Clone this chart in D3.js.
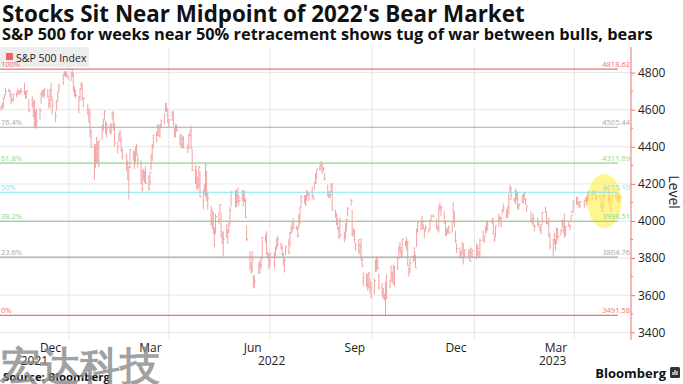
<!DOCTYPE html>
<html>
<head>
<meta charset="utf-8">
<script src="https://cdn.jsdelivr.net/npm/d3@7"></script>
<style>
  body { margin: 0; background: #fff; }
  svg { display: block; }
  text { font-family: "Open Sans", "Liberation Sans", sans-serif; }
</style>
</head>
<body>
<svg width="683" height="384"></svg>
<script>
// ---- data ----
var firstDay = '2021-11-01';
var lastDay = '2023-05-12';
var marketHolidays = ['2021-11-25', '2021-12-24', '2022-01-17', '2022-02-21', '2022-04-15',
  '2022-05-30', '2022-06-20', '2022-07-04', '2022-09-05', '2022-11-24', '2022-12-26',
  '2023-01-02', '2023-01-16', '2023-02-20', '2023-04-07'];

// one [low, high, close] per trading day
var dailyBars = [
  // Nov 2021
  [4596,4621,4614],[4605,4636,4631],[4608,4664,4661],[4662,4683,4680],[4681,4718,4698],[4694,4714,4702],[4667,4708,4685],[4630,4685,4647],[4646,4663,4649],[4651,4688,4683],[4666,4697,4683],[4677,4714,4701],[4685,4701,4689],[4679,4706,4705],[4689,4717,4698],[4680,4744,4683],[4658,4702,4691],[4659,4704,4701],[4585,4657,4595],[4612,4672,4655],[4560,4646,4567],
  // Dec 2021
  [4510,4653,4513],[4504,4595,4577],[4496,4608,4538],[4546,4612,4592],[4632,4695,4687],[4670,4705,4701],[4667,4708,4667],[4675,4713,4712],[4665,4711,4669],[4608,4660,4634],[4606,4712,4710],[4648,4743,4669],[4574,4661,4621],[4531,4591,4568],[4595,4650,4649],[4643,4698,4697],[4699,4741,4726],[4734,4792,4791],[4783,4808,4786],[4775,4805,4793],[4778,4808,4779],[4765,4787,4766],
  // Jan 2022
  [4755,4798,4797],[4775,4818.62,4794],[4700,4797,4701],[4671,4725,4696],[4662,4707,4677],[4582,4673,4670],[4646,4714,4713],[4707,4749,4726],[4651,4745,4659],[4614,4665,4663],[4571,4631,4577],[4531,4611,4533],[4449,4596,4483],[4395,4495,4398],[4223,4417,4410],[4287,4411,4356],[4309,4454,4350],[4309,4429,4327],[4288,4432,4432],[4436,4516,4516],
  // Feb 2022
  [4484,4550,4547],[4551,4595,4589],[4470,4543,4477],[4451,4530,4501],[4471,4522,4484],[4466,4527,4522],[4547,4591,4587],[4488,4589,4504],[4401,4527,4419],[4364,4427,4402],[4429,4473,4471],[4426,4490,4475],[4373,4454,4380],[4328,4395,4349],[4268,4363,4305],[4222,4325,4226],[4115,4295,4289],[4286,4385,4385],[4322,4381,4374],
  // Mar 2022
  [4279,4372,4306],[4318,4401,4387],[4351,4416,4363],[4287,4354,4329],[4199,4327,4201],[4158,4277,4171],[4218,4277,4278],[4206,4268,4260],[4199,4296,4204],[4162,4247,4173],[4192,4263,4262],[4273,4358,4358],[4324,4412,4412],[4390,4465,4463],[4424,4482,4461],[4458,4522,4512],[4456,4501,4456],[4452,4521,4520],[4501,4546,4543],[4522,4576,4576],[4589,4637,4632],[4588,4627,4602],[4530,4603,4530],
  // Apr 2022
  [4507,4549,4546],[4539,4593,4583],[4513,4594,4525],[4450,4504,4481],[4451,4521,4500],[4481,4521,4488],[4410,4465,4413],[4395,4471,4397],[4395,4453,4447],[4391,4460,4393],[4366,4411,4392],[4390,4471,4462],[4455,4489,4459],[4386,4513,4394],[4268,4386,4272],[4200,4299,4296],[4175,4278,4175],[4170,4241,4184],[4184,4298,4288],[4128,4269,4132],
  // May 2022
  [4062,4170,4155],[4142,4200,4175],[4132,4308,4300],[4107,4270,4147],[4062,4158,4123],[3975,4082,3991],[3957,4068,4001],[3929,4050,3935],[3859,3964,3930],[3935,4039,4024],[3984,4047,4008],[4039,4089,4089],[3912,4044,3924],[3876,3946,3901],[3810,3943,3901],[3909,3981,3974],[3876,3956,3941],[3936,4000,3979],[3984,4075,4058],[4077,4158,4158],[4074,4169,4132],
  // Jun 2022
  [4073,4166,4101],[4097,4177,4177],[4081,4143,4109],[4107,4168,4121],[4080,4165,4161],[4102,4160,4116],[4017,4120,4018],[3891,3975,3901],[3735,3838,3750],[3715,3779,3735],[3723,3837,3790],[3640,3707,3667],[3637,3708,3675],[3715,3780,3765],[3716,3790,3760],[3745,3802,3796],[3798,3913,3912],[3887,3927,3900],[3820,3945,3822],[3799,3837,3819],[3738,3818,3785],
  // Jul 2022
  [3751,3829,3825],[3743,3832,3831],[3812,3864,3845],[3849,3906,3903],[3860,3919,3899],[3846,3882,3854],[3814,3874,3819],[3759,3829,3802],[3722,3797,3790],[3817,3864,3863],[3822,3903,3831],[3861,3939,3937],[3930,3975,3960],[3940,3999,3999],[3956,4013,3962],[3951,3976,3967],[3911,3962,3921],[3956,4039,4024],[3982,4078,4072],[4079,4140,4130],
  // Aug 2022
  [4093,4141,4119],[4080,4140,4091],[4108,4167,4155],[4128,4162,4152],[4107,4151,4145],[4127,4187,4140],[4112,4138,4122],[4170,4211,4210],[4200,4257,4207],[4223,4280,4280],[4269,4301,4297],[4277,4325,4305],[4254,4303,4274],[4267,4292,4284],[4218,4259,4228],[4133,4196,4138],[4124,4160,4129],[4125,4163,4141],[4150,4200,4199],[4057,4204,4058],[4018,4062,4031],[3977,4045,3986],[3954,4016,3955],
  // Sep 2022
  [3903,3968,3967],[3907,4018,3924],[3886,3943,3908],[3906,3988,3980],[3943,4011,4006],[4023,4077,4067],[4083,4120,4110],[3921,4062,3933],[3915,3960,3946],[3880,3956,3901],[3838,3880,3873],[3827,3900,3900],[3818,3877,3856],[3789,3907,3790],[3750,3800,3758],[3648,3723,3693],[3645,3716,3655],[3623,3717,3647],[3640,3727,3719],[3610,3688,3640],[3584,3672,3586],
  // Oct 2022
  [3604,3690,3678],[3724,3791,3791],[3727,3807,3783],[3739,3798,3745],[3630,3718,3640],[3591,3666,3612],[3579,3640,3589],[3571,3610,3577],[3491.58,3672,3670],[3582,3712,3583],[3640,3680,3678],[3677,3762,3720],[3666,3728,3695],[3657,3764,3666],[3647,3757,3753],[3735,3805,3797],[3799,3862,3859],[3830,3886,3831],[3804,3860,3807],[3809,3905,3901],[3865,3893,3872],
  // Nov 2022
  [3843,3911,3856],[3759,3894,3760],[3699,3751,3720],[3723,3796,3771],[3775,3814,3807],[3785,3860,3828],[3748,3818,3749],[3859,3959,3956],[3938,4001,3993],[3954,4009,3957],[3953,4029,3992],[3954,3983,3959],[3907,3955,3947],[3944,3980,3965],[3938,3962,3950],[3956,4004,4004],[3999,4034,4027],[4018,4035,4026],[3956,4013,3964],[3948,3976,3958],[3937,4081,4080],
  // Dec 2022
  [4051,4101,4077],[4026,4077,4072],[3985,4052,3999],[3918,4002,3941],[3919,3957,3934],[3937,3966,3964],[3933,3977,3934],[3936,3991,3991],[3994,4101,4020],[3965,4053,3995],[3880,3946,3896],[3827,3880,3852],[3800,3856,3818],[3796,3839,3822],[3828,3888,3878],[3765,3876,3822],[3801,3846,3845],[3808,3847,3829],[3780,3849,3783],[3805,3858,3849],[3800,3840,3840],
  // Jan 2023
  [3794,3879,3824],[3814,3874,3853],[3802,3840,3808],[3809,3907,3895],[3890,3951,3892],[3882,3920,3919],[3927,3970,3970],[3937,3998,3983],[3949,4003,3999],[3984,4015,3991],[3926,4015,3929],[3886,3922,3899],[3911,3973,3973],[3970,4040,4020],[3996,4028,4017],[3966,4020,4016],[4031,4060,4060],[4049,4095,4071],[4015,4063,4018],[4020,4077,4077],
  // Feb 2023
  [4037,4148,4119],[4146,4195,4180],[4113,4182,4136],[4103,4125,4111],[4088,4177,4164],[4112,4160,4118],[4064,4156,4082],[4061,4095,4090],[4093,4138,4137],[4095,4149,4136],[4113,4148,4148],[4087,4122,4090],[4048,4081,4079],[3995,4051,3997],[3982,4018,3991],[3971,4039,4012],[3943,3981,3970],[3976,4018,3982],[3968,3999,3970],
  // Mar 2023
  [3943,3972,3951],[3928,3983,3981],[3984,4049,4046],[4044,4079,4048],[3984,4051,3986],[3980,4001,3992],[3916,4018,3918],[3847,3935,3862],[3809,3905,3856],[3874,3938,3919],[3838,3903,3892],[3875,3965,3960],[3901,3958,3917],[3923,3957,3952],[3964,4009,4003],[3936,4003,3937],[3909,4040,3949],[3918,3973,3971],[3970,3999,3978],[3951,3980,3971],[3999,4030,4028],[4039,4056,4051],[4057,4110,4109],
  // Apr 2023
  [4086,4128,4125],[4091,4133,4101],[4072,4100,4090],[4069,4107,4105],[4072,4110,4109],[4107,4125,4109],[4086,4135,4092],[4100,4152,4146],[4113,4164,4138],[4114,4152,4151],[4139,4170,4155],[4139,4163,4155],[4114,4148,4130],[4114,4139,4134],[4118,4143,4137],[4071,4126,4072],[4050,4089,4056],[4071,4139,4135],[4128,4170,4169],
  // May 2023
  [4164,4186,4168],[4098,4165,4120],[4089,4148,4091],[4048,4083,4061],[4099,4142,4136],[4124,4143,4138],[4116,4131,4119],[4099,4154,4138],[4109,4142,4131],[4099,4143,4124]
];

var fibLabels = ['100%', '76.4%', '61.8%', '50%', '38.2%', '23.6%', '0%'];
var fibValues = [4818.62, 4505.44, 4311.69, 4155.10, 3998.51, 3804.76, 3491.58];
var levelTicks = [3400, 3600, 3800, 4000, 4200, 4400, 4600, 4800];
var monthLabelDates = ['2021-12-15', '2022-03-15', '2022-06-15', '2022-09-15', '2022-12-15', '2023-03-15'];
var quarterStarts = ['2022-01-01', '2022-04-01', '2022-07-01', '2022-10-01', '2023-01-01', '2023-04-01'];
var yearLabels = ['2021', '2022', '2023'];

// ---- styles ----
var fibColors = ['#f07070', '#a8a8a8', '#8ad88a', '#7ce6ee', '#8ad88a', '#a8a8a8', '#f07070'];
var barColor = '#f3a3a3';

var svg = d3.select('svg');
var parseDay = d3.timeParse('%Y-%m-%d');
var fmtDay = d3.timeFormat('%Y-%m-%d');

var plot = {left: 0, right: 631, top: 47, bottom: 340};

var tradingDays = d3.timeDay.range(parseDay(firstDay), d3.timeDay.offset(parseDay(lastDay), 1))
  .filter(d => d.getDay() !== 0 && d.getDay() !== 6 && marketHolidays.indexOf(fmtDay(d)) < 0);

var bars = tradingDays.map((d, i) => ({date: d, low: dailyBars[i][0], high: dailyBars[i][1], close: dailyBars[i][2]}));

var x = d3.scaleTime()
  .domain([parseDay('2021-10-31'), parseDay('2023-05-22')])
  .range([plot.left, plot.right]);

var y = d3.scaleLinear()
  .domain([3400, 4800])
  .range([332.3, 72.6]);

// gridlines
svg.append('g')
  .selectAll('line')
  .data(levelTicks)
  .join('line')
  .attr('x1', plot.left).attr('x2', plot.right)
  .attr('y1', d => y(d)).attr('y2', d => y(d))
  .attr('stroke', '#e6e6e6');

svg.append('g')
  .selectAll('line')
  .data(quarterStarts.map(parseDay))
  .join('line')
  .attr('x1', d => x(d)).attr('x2', d => x(d))
  .attr('y1', plot.top).attr('y2', plot.bottom)
  .attr('stroke', '#e6e6e6');

// legend
var legend = svg.append('g');
legend.append('rect')
  .attr('x', 0).attr('y', 47).attr('width', 89).attr('height', 20)
  .attr('fill', '#ededed');
legend.append('rect')
  .attr('x', 6).attr('y', 53).attr('width', 7).attr('height', 7)
  .attr('fill', '#f06464');
legend.append('text')
  .attr('x', 16).attr('y', 61.5)
  .attr('font-size', 10.5)
  .attr('fill', '#222')
  .text('S&P 500 Index');

// fib lines
var lastDate = bars[bars.length - 1].date;
var fibs = svg.append('g');
fibs.selectAll('line')
  .data(fibValues)
  .join('line')
  .attr('x1', plot.left).attr('x2', x(lastDate) - 2)
  .attr('y1', d => y(d)).attr('y2', d => y(d))
  .attr('stroke', (d, i) => fibColors[i])
  .attr('stroke-width', 1.2);

fibs.selectAll('text.pct')
  .data(fibValues)
  .join('text')
  .attr('class', 'pct')
  .attr('x', 1)
  .attr('y', d => y(d) - 2)
  .attr('font-size', 7.5)
  .attr('font-family', 'Liberation Sans')
  .attr('fill', (d, i) => fibColors[i])
  .text((d, i) => fibLabels[i]);

// price bars
var barG = svg.append('g')
  .attr('stroke', barColor)
  .attr('stroke-width', 1);
barG.selectAll('line.hl')
  .data(bars)
  .join('line')
  .attr('class', 'hl')
  .attr('x1', d => x(d.date)).attr('x2', d => x(d.date))
  .attr('y1', d => y(d.low)).attr('y2', d => y(d.high));
barG.selectAll('line.cl')
  .data(bars)
  .join('line')
  .attr('class', 'cl')
  .attr('x1', d => x(d.date)).attr('x2', d => x(d.date) + 1.5)
  .attr('y1', d => y(d.close)).attr('y2', d => y(d.close));

// highlight
svg.append('ellipse')
  .attr('cx', x(parseDay('2023-04-28')))
  .attr('cy', y(4108))
  .attr('rx', 17).attr('ry', 27)
  .attr('fill', '#fff04a')
  .attr('opacity', 0.6);

// fib values on the right
fibs.selectAll('text.val')
  .data(fibValues)
  .join('text')
  .attr('class', 'val')
  .attr('x', plot.right - 1)
  .attr('y', d => y(d) - 2)
  .attr('text-anchor', 'end')
  .attr('font-size', 7.5)
  .attr('font-family', 'Liberation Sans')
  .attr('fill', (d, i) => fibColors[i])
  .text(d => d3.format('.2f')(d));
fibs.raise();

// right axis
var yAxis = svg.append('g')
  .attr('transform', 'translate(' + plot.right + ',0)')
  .call(d3.axisRight(y).tickValues(levelTicks).tickFormat(d3.format('d')).tickSize(4).tickPadding(3));
yAxis.select('.domain').remove();
yAxis.selectAll('line').attr('stroke', '#f07070');
yAxis.selectAll('text')
  .attr('font-size', 12)
  .attr('font-family', 'Open Sans')
  .attr('fill', '#222');
yAxis.append('g')
  .selectAll('line')
  .data(d3.range(3500, 4800, 200))
  .join('line')
  .attr('x1', 0).attr('x2', 2)
  .attr('y1', d => y(d)).attr('y2', d => y(d))
  .attr('stroke', '#f07070');
yAxis.append('line')
  .attr('x1', 0).attr('x2', 0)
  .attr('y1', plot.top).attr('y2', plot.bottom)
  .attr('stroke', '#f07070');

svg.append('text')
  .attr('transform', 'translate(669,192) rotate(90)')
  .attr('text-anchor', 'middle')
  .attr('font-size', 14)
  .attr('fill', '#222')
  .text('Level');

// bottom axis: months and years
var xAxis = svg.append('g')
  .attr('transform', 'translate(0,' + plot.bottom + ')')
  .call(d3.axisBottom(x).tickValues(monthLabelDates.map(parseDay)).tickFormat(d3.timeFormat('%b')).tickSize(0).tickPadding(3));
xAxis.select('.domain').remove();
xAxis.selectAll('text')
  .attr('font-size', 12)
  .attr('font-family', 'Liberation Sans Narrow')
  .attr('fill', '#222');

var yearStarts = [parseDay('2021-10-31'), parseDay('2022-01-01'), parseDay('2023-01-01'), parseDay('2023-05-22')];
svg.append('g')
  .selectAll('text')
  .data(yearLabels)
  .join('text')
  .attr('x', (d, i) => (x(yearStarts[i]) + x(yearStarts[i + 1])) / 2)
  .attr('y', 365)
  .attr('text-anchor', 'middle')
  .attr('font-size', 12)
  .attr('font-family', 'Liberation Sans Narrow')
  .attr('fill', '#222')
  .text(d => d);

// titles
function fitWidth(sel, width) {
  var w = sel.node().getComputedTextLength();
  var fs = +sel.attr('font-size');
  sel.attr('font-size', fs * width / w);
}
var title = svg.append('text')
  .attr('x', 2).attr('y', 22)
  .attr('font-family', 'DejaVu Sans')
  .attr('font-weight', 'bold')
  .attr('font-size', 19)
  .attr('fill', '#111')
  .text("Stocks Sit Near Midpoint of 2022's Bear Market");
fitWidth(title, 523);

var subtitle = svg.append('text')
  .attr('x', 2).attr('y', 40)
  .attr('font-family', 'DejaVu Sans')
  .attr('font-weight', 'bold')
  .attr('font-size', 13)
  .attr('fill', '#111')
  .text('S&P 500 for weeks near 50% retracement shows tug of war between bulls, bears');
fitWidth(subtitle, 651);

// footer
var source = svg.append('text')
  .attr('x', 3).attr('y', 381)
  .attr('font-family', 'DejaVu Sans')
  .attr('font-weight', 'bold')
  .attr('font-size', 10)
  .attr('fill', '#111')
  .text('Source: Bloomberg');
fitWidth(source, 107);

svg.append('text')
  .attr('x', 666).attr('y', 378)
  .attr('text-anchor', 'end')
  .attr('font-family', 'Open Sans')
  .attr('font-weight', 'bold')
  .attr('font-size', 13)
  .attr('fill', '#111')
  .text('Bloomberg');
var logo = svg.append('g').attr('transform', 'translate(670,367)');
logo.append('rect').attr('width', 10).attr('height', 11).attr('rx', 1.5).attr('fill', '#333');
logo.append('path').attr('d', 'M3,8V5M5,8V3M7,8V4').attr('stroke', '#fff').attr('stroke-width', 1.2);

// watermark
svg.append('text')
  .attr('x', 0).attr('y', 380)
  .attr('font-family', 'Noto Sans CJK SC')
  .attr('font-weight', 900)
  .attr('font-size', 40)
  .attr('fill', '#8a8a8a')
  .attr('opacity', 0.8)
  .text('宏达科技');
</script>
</body>
</html>
